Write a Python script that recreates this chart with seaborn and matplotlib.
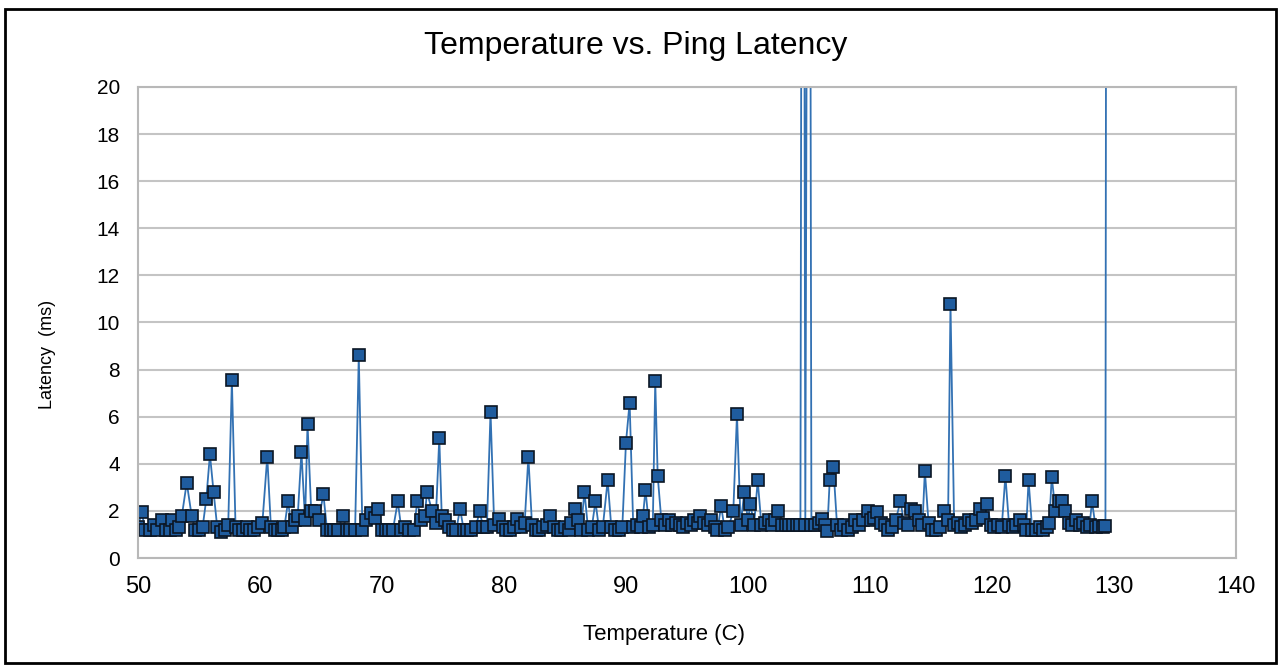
import pandas as pd
import seaborn as sns
import matplotlib.pyplot as plt
from matplotlib.patches import Rectangle

# Temperature (C) and ping latency (ms)
temperature = [
    50.0, 50.3, 50.6, 51.0, 51.3, 51.6, 52.0, 52.3, 52.6, 52.8, 53.1, 53.4, 53.6, 54.0, 54.4,
    54.7, 55.0, 55.3, 55.6, 55.9, 56.2, 56.5, 56.8, 57.1, 57.4, 57.7, 58.0, 58.3, 58.6, 58.9,
    59.2, 59.5, 59.8, 60.2, 60.6, 60.9, 61.2, 61.5, 61.8, 62.0, 62.3, 62.6, 62.9, 63.1, 63.4,
    63.7, 63.9, 64.2, 64.5, 64.8, 65.2, 65.5, 65.8, 66.1, 66.4, 66.8, 67.1, 67.4, 67.8, 68.1,
    68.4, 68.7, 69.1, 69.4, 69.7, 70.0, 70.3, 70.6, 70.9, 71.3, 71.6, 71.9, 72.2, 72.6, 72.9,
    73.2, 73.5, 73.7, 74.1, 74.4, 74.7, 74.9, 75.2, 75.5, 75.8, 76.1, 76.4, 76.7, 77.0, 77.3,
    77.7, 78.0, 78.3, 78.6, 78.9, 79.2, 79.6, 79.9, 80.2, 80.5, 80.8, 81.1, 81.4, 81.7, 82.0,
    82.3, 82.6, 82.9, 83.2, 83.5, 83.8, 84.1, 84.4, 84.7, 85.0, 85.3, 85.5, 85.8, 86.1, 86.3,
    86.6, 86.9, 87.2, 87.5, 87.8, 88.1, 88.5, 88.8, 89.1, 89.4, 89.7, 90.0, 90.3, 90.6, 90.9,
    91.2, 91.4, 91.6, 91.9, 92.2, 92.4, 92.6, 92.9, 93.2, 93.5, 93.8, 94.1, 94.4, 94.7, 95.0,
    95.3, 95.6, 95.9, 96.1, 96.4, 96.7, 97.0, 97.3, 97.5, 97.8, 98.1, 98.4, 98.8, 99.1, 99.4,
    99.7, 100.0, 100.2, 100.5, 100.8, 101.1, 101.4, 101.7, 102.0, 102.2, 102.5, 102.8, 103.1, 103.4, 103.7,
    104.0, 104.3, 104.5, 104.7, 105.0, 105.2, 105.5, 105.8, 106.1, 106.3, 106.5, 106.7, 107.0, 107.3, 107.6,
    107.9, 108.2, 108.5, 108.8, 109.1, 109.4, 109.8, 110.1, 110.3, 110.6, 110.9, 111.2, 111.5, 111.8, 112.1,
    112.5, 112.8, 113.1, 113.4, 113.7, 114.0, 114.3, 114.5, 114.8, 115.1, 115.4, 115.7, 116.1, 116.4, 116.6,
    116.9, 117.2, 117.5, 117.8, 118.1, 118.4, 118.7, 119.0, 119.3, 119.6, 119.9, 120.2, 120.5, 120.8, 121.1,
    121.4, 121.7, 122.0, 122.3, 122.6, 122.8, 123.0, 123.3, 123.6, 123.9, 124.2, 124.5, 124.7, 124.9, 125.2,
    125.5, 125.7, 126.0, 126.3, 126.6, 126.9, 127.2, 127.5, 127.8, 128.0, 128.2, 128.5, 128.8, 129.1, 129.3,
    129.4,
]
latency = [
    1.3, 1.95, 1.2, 1.2, 1.4, 1.2, 1.6, 1.2, 1.2, 1.6, 1.2, 1.3, 1.8, 3.2, 1.8,
    1.2, 1.2, 1.3, 2.5, 4.4, 2.8, 1.3, 1.1, 1.2, 1.4, 7.55, 1.3, 1.2, 1.2, 1.3,
    1.2, 1.2, 1.3, 1.5, 4.3, 1.3, 1.2, 1.2, 1.2, 1.3, 2.4, 1.3, 1.6, 1.8, 4.5,
    1.6, 5.7, 2.0, 2.0, 1.6, 2.7, 1.2, 1.2, 1.2, 1.2, 1.8, 1.2, 1.2, 1.2, 8.6,
    1.2, 1.6, 1.9, 1.7, 2.1, 1.2, 1.2, 1.2, 1.2, 2.4, 1.2, 1.3, 1.2, 1.2, 2.4,
    1.6, 1.8, 2.8, 2.0, 1.5, 5.1, 1.8, 1.6, 1.3, 1.2, 1.2, 2.1, 1.2, 1.2, 1.2,
    1.3, 2.0, 1.3, 1.3, 6.2, 1.4, 1.65, 1.3, 1.2, 1.2, 1.3, 1.65, 1.3, 1.5, 4.3,
    1.4, 1.2, 1.2, 1.3, 1.4, 1.8, 1.3, 1.2, 1.2, 1.3, 1.2, 1.5, 2.1, 1.6, 1.2,
    2.8, 1.2, 1.3, 2.4, 1.2, 1.3, 3.3, 1.3, 1.2, 1.2, 1.3, 4.9, 6.6, 1.3, 1.4,
    1.3, 1.8, 2.9, 1.3, 1.4, 7.5, 3.5, 1.6, 1.4, 1.6, 1.4, 1.5, 1.4, 1.3, 1.5,
    1.4, 1.6, 1.5, 1.8, 1.5, 1.4, 1.6, 1.3, 1.2, 2.2, 1.2, 1.3, 2.0, 6.1, 1.4,
    2.8, 1.6, 2.3, 1.4, 3.3, 1.4, 1.5, 1.6, 1.4, 1.6, 2.0, 1.4, 1.4, 1.4, 1.4,
    1.4, 1.4, 62.0, 1.4, 58.0, 1.4, 1.4, 1.5, 1.65, 1.4, 1.15, 3.3, 3.85, 1.4, 1.2,
    1.4, 1.2, 1.3, 1.6, 1.4, 1.6, 2.0, 1.6, 1.7, 1.95, 1.5, 1.4, 1.2, 1.3, 1.6,
    2.4, 1.5, 1.4, 2.1, 2.0, 1.6, 1.4, 3.7, 1.5, 1.2, 1.2, 1.3, 2.0, 1.6, 10.8,
    1.4, 1.5, 1.3, 1.4, 1.6, 1.5, 1.6, 2.1, 1.7, 2.3, 1.4, 1.3, 1.4, 1.3, 3.5,
    1.4, 1.3, 1.4, 1.6, 1.4, 1.2, 3.3, 1.2, 1.2, 1.3, 1.2, 1.3, 1.5, 3.45, 2.0,
    2.4, 2.4, 2.0, 1.5, 1.4, 1.6, 1.4, 1.5, 1.3, 1.4, 2.4, 1.3, 1.35, 1.3, 1.35,
    45.0,
]

x_ticks = [50, 60, 70, 80, 90, 100, 110, 120, 130, 140]
y_ticks = [0, 2, 4, 6, 8, 10, 12, 14, 16, 18, 20]

df = pd.DataFrame({'Temperature': temperature, 'Latency': latency})

sns.set_style('white')
plt.rcParams['font.family'] = ['Liberation Sans', 'DejaVu Sans']
plt.rcParams['text.color'] = 'black'
plt.rcParams['axes.labelcolor'] = 'black'
plt.rcParams['xtick.color'] = 'black'
plt.rcParams['ytick.color'] = 'black'

fig = plt.figure(figsize=(12.82, 6.67), dpi=100)
ax = fig.add_axes([0.1076, 0.1634, 0.8565, 0.7062])

sns.lineplot(data=df, x='Temperature', y='Latency', ax=ax, sort=False, estimator=None,
             color='#3271b3', linewidth=1.3, marker='s', markersize=8,
             markerfacecolor='#1f5c9e', markeredgecolor='#0b1624', markeredgewidth=1.2)

ax.set_xlim(50, 140)
ax.set_ylim(0, 20)
ax.set_xticks(x_ticks)
ax.set_yticks(y_ticks)
ax.yaxis.grid(True, color='#c4c4c4', linewidth=1.5)
ax.set_axisbelow(True)
for side in ['left', 'right', 'top', 'bottom']:
    ax.spines[side].set_color('#b8b8b8')
    ax.spines[side].set_linewidth(1.5)
ax.tick_params(axis='both', direction='out', length=7, width=1.2, color='#b0b0b0',
               labelsize=17, pad=6)
ax.tick_params(axis='y', labelsize=15)

ax.set_title('Temperature vs. Ping Latency', fontsize=23, x=0.4536, pad=24)
ax.set_xlabel('Temperature (C)', fontsize=16)
ax.set_ylabel('Latency  (ms)', fontsize=13)
ax.xaxis.set_label_coords(0.479, -0.14)
ax.yaxis.set_label_coords(-0.075, 0.433)

# Frame around the whole picture
fig.patches.append(Rectangle((0.004, 0.006), 0.991, 0.981, transform=fig.transFigure,
                             fill=False, edgecolor='black', linewidth=2))

fig.savefig('out.png', dpi=100)
